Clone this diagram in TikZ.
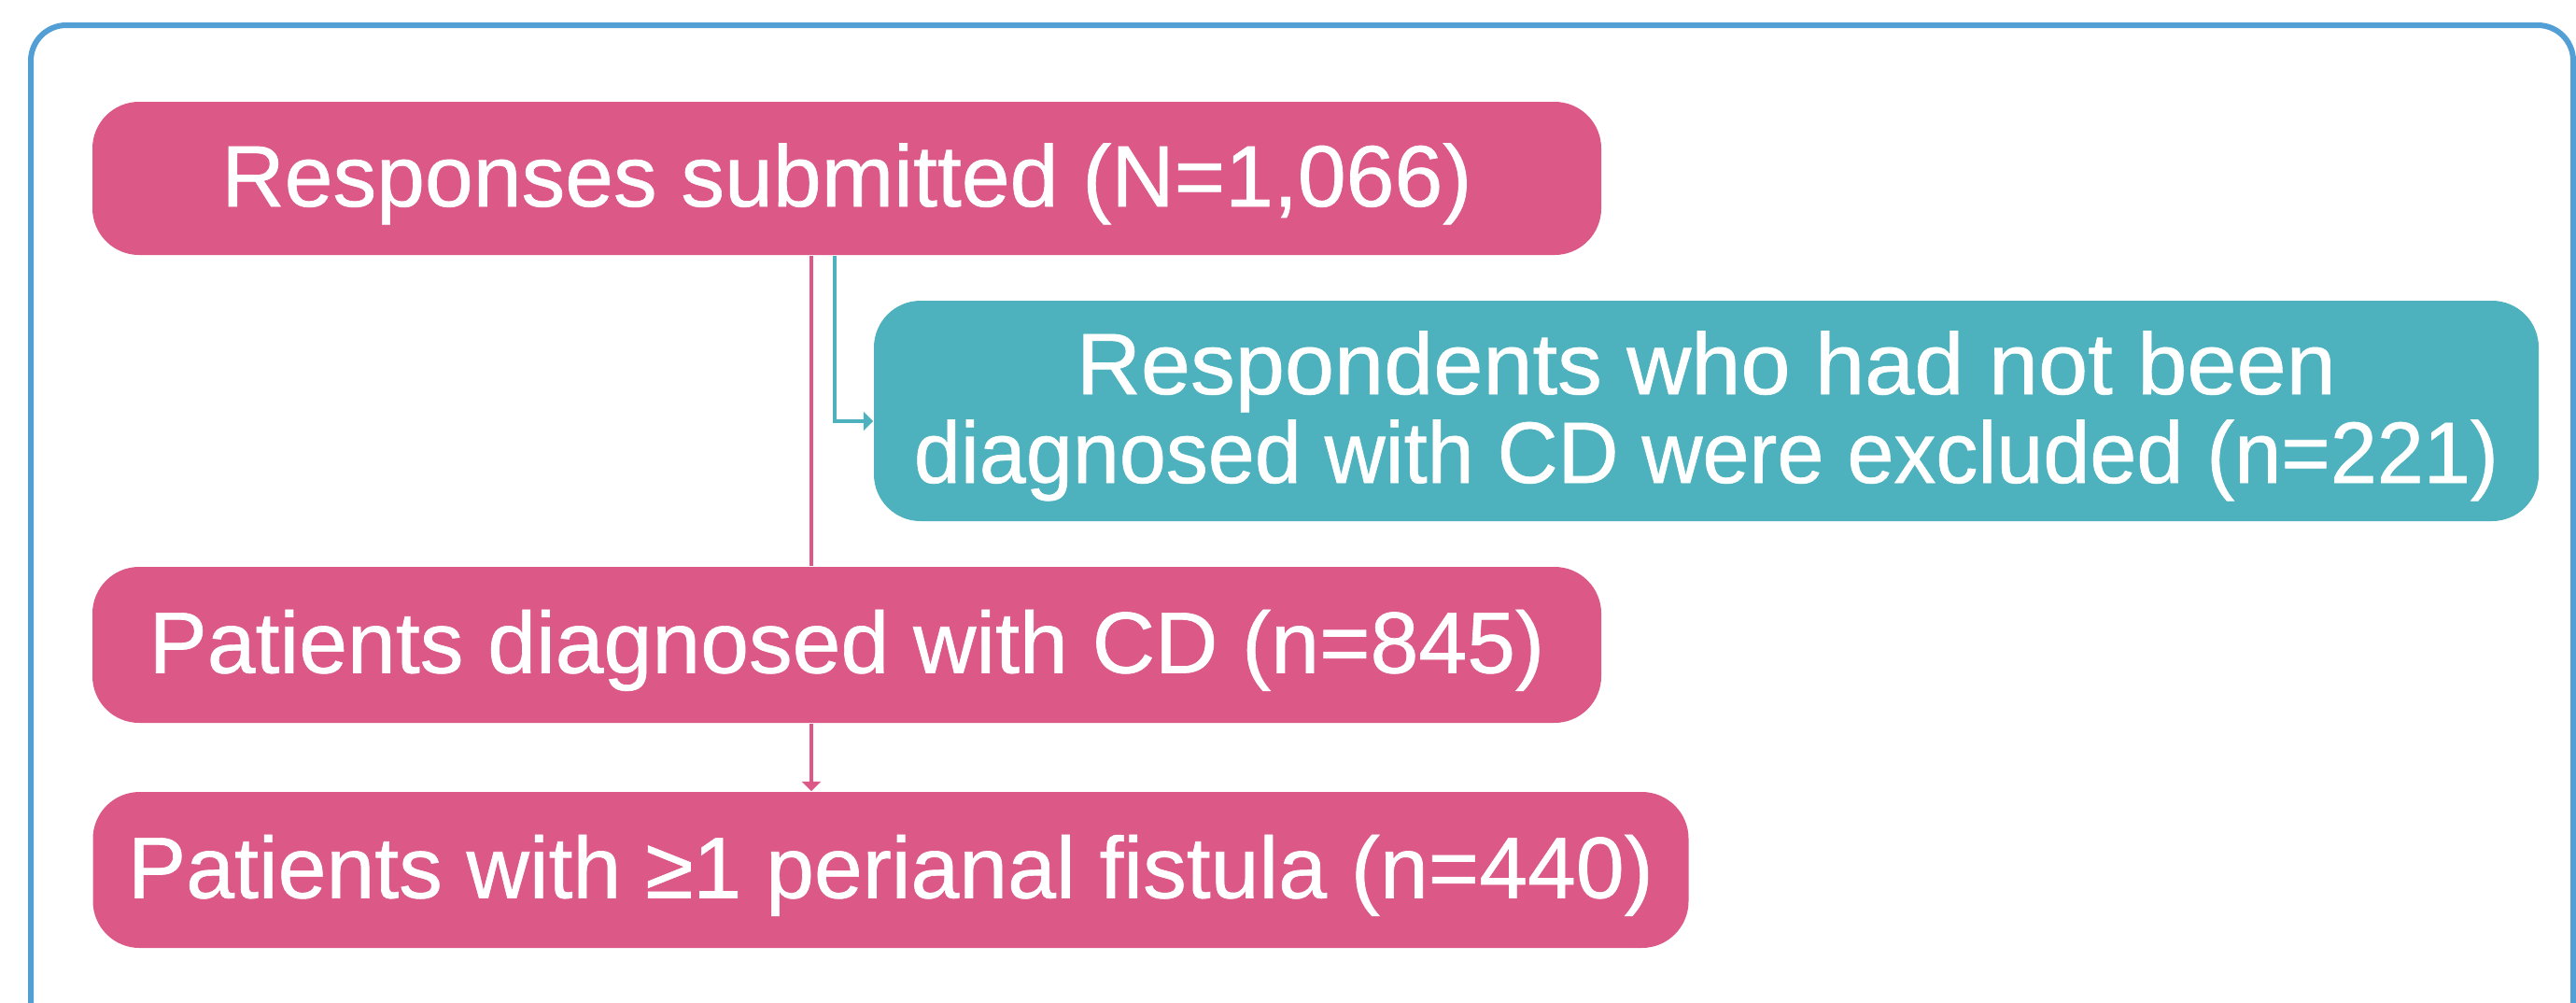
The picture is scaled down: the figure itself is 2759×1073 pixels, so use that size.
\documentclass[tikz,border=0pt]{standalone}
\usepackage{fontspec}
\setmainfont{Liberation Sans}
\newfontfamily\boxfont{Liberation Sans}[FakeBold=0.7]
\usetikzlibrary{arrows.meta}
\definecolor{pinkc}{HTML}{DB5887}
\definecolor{tealc}{HTML}{4EB2BE}
\definecolor{frameblue}{HTML}{529FD6}
\begin{document}
\begin{tikzpicture}[x=0.25pt,y=-0.25pt,
  box/.style={rounded corners=12.5pt, text=white, inner sep=0pt,
    font=\boxfont\fontsize{23.3}{23.75}\selectfont},
  pinkbox/.style={box, fill=pinkc, text height=20pt, text depth=5pt},
  tealbox/.style={box, fill=tealc},
  pinkline/.style={draw=pinkc, line width=0.85pt},
  tealline/.style={draw=tealc, line width=0.85pt},
  tip/.style={-{Triangle[length=2.6pt,width=5pt]}}]
\useasboundingbox (0,0) rectangle (2759,1073);
\begin{scope}
  \clip (0,0) rectangle (2759,1073);
  \draw[frameblue, line width=1.5pt, rounded corners=9.5pt] (33,27) rectangle (2756,1130);
\end{scope}
\node[pinkbox, minimum width=404pt, minimum height=41pt] (resp) at (907,191) {Responses submitted (N=1,066)};
\node[tealbox, minimum width=445.75pt, minimum height=59pt] (excl) at (1827.5,440)
  {\raisebox{0pt}[43.5pt][5pt]{\parbox[b]{440pt}{\centering
   \scalebox{1.025}[1]{Respondents who had not been}\\
   \scalebox{0.965}[1]{diagnosed with CD were excluded (n=221)}}}};
\node[pinkbox, minimum width=404pt, minimum height=41.75pt] (diag) at (907,690.5) {Patients diagnosed with CD (n=845)};
\node[pinkbox, minimum width=427.25pt, minimum height=41.75pt] (fist) at (954,931.5) {Patients with ≥1 perianal fistula (n=440)};
\coordinate (c1) at (869,0);
\coordinate (c2) at (894,0);
\coordinate (c3) at (0,451);
\draw[pinkline] (resp.south -| c1) -- (diag.north -| c1);
\draw[pinkline, tip] (diag.south -| c1) -- (fist.north -| c1);
\draw[tealline, tip] (resp.south -| c2) |- (excl.west |- c3);
\end{tikzpicture}
\end{document}
